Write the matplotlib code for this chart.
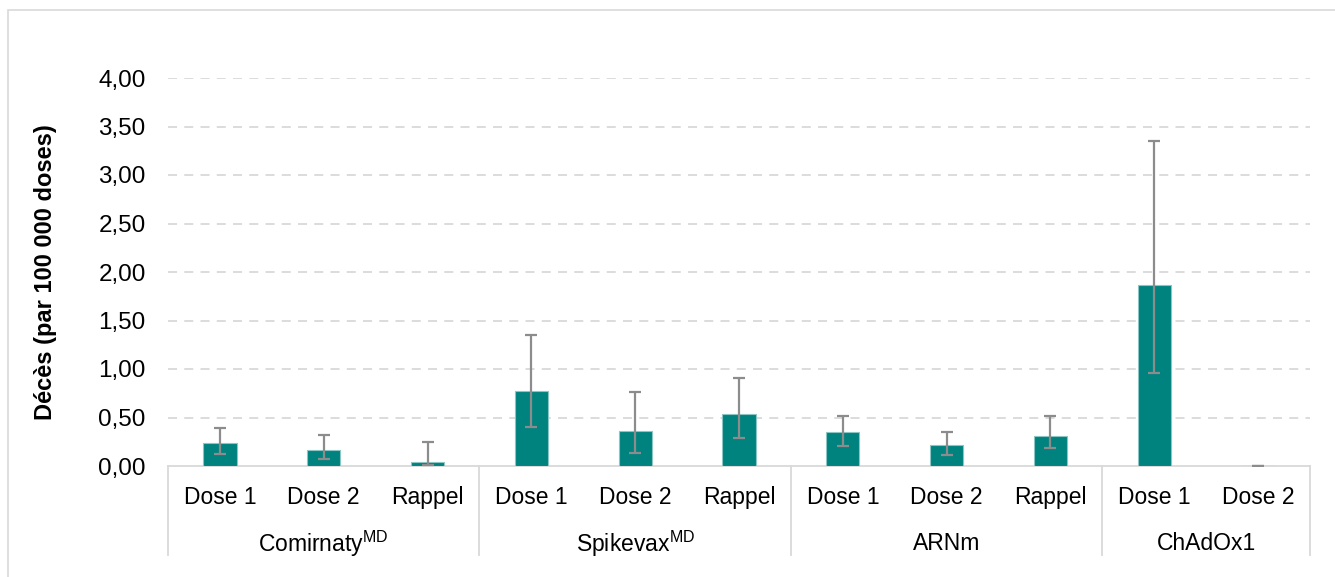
import matplotlib.pyplot as plt
import numpy as np
from matplotlib.patches import Rectangle

plt.rcParams['font.family'] = ['Liberation Sans', 'DejaVu Sans']
plt.rcParams['mathtext.fontset'] = 'custom'
plt.rcParams['mathtext.rm'] = 'Liberation Sans'

# donnees
groups = ["Comirnaty$^{\\mathrm{MD}}$", "Spikevax$^{\\mathrm{MD}}$", "ARNm", "ChAdOx1"]
group_sizes = [3, 3, 3, 2]
doses = ["Dose 1", "Dose 2", "Rappel",
         "Dose 1", "Dose 2", "Rappel",
         "Dose 1", "Dose 2", "Rappel",
         "Dose 1", "Dose 2"]
deces = [0.24, 0.17, 0.04, 0.77, 0.36, 0.54, 0.35, 0.22, 0.31, 1.87, 0.0]
ic_bas = [0.12, 0.07, 0.01, 0.40, 0.13, 0.29, 0.21, 0.11, 0.19, 0.96, 0.0]
ic_haut = [0.39, 0.32, 0.25, 1.35, 0.76, 0.91, 0.52, 0.35, 0.52, 3.35, 0.0]
yticks = [0, 0.5, 1, 1.5, 2, 2.5, 3, 3.5, 4]

fig = plt.figure(figsize=(13.35, 5.77), dpi=100)
ax = fig.add_axes([168/1335, (577-466)/577, (1310-168)/1335, (466-78)/577])

x = np.arange(len(deces))
err = [np.array(deces) - np.array(ic_bas), np.array(ic_haut) - np.array(deces)]
ax.bar(x, deces, width=0.32, color='#00827f', edgecolor='#8cc6c4', linewidth=0.8, zorder=3)
ax.errorbar(x, deces, yerr=err, fmt='none', ecolor='#8c8c8c', elinewidth=1.6,
            capsize=4.5, capthick=1.6, zorder=4)

ax.set_xlim(-0.5, len(deces) - 0.5)
ax.set_ylim(0, 4)
ax.set_yticks(yticks)
ax.set_yticklabels([("%.2f" % v).replace('.', ',') for v in yticks], fontsize=17.5)
for v in yticks[1:]:
    ax.axhline(v, color='#d9d9d9', linestyle=(0, (5, 4)), linewidth=1.3, zorder=1)
ax.tick_params(axis='y', length=0, pad=16)
ax.set_xticks([])
for s in ['top', 'right', 'left']:
    ax.spines[s].set_visible(False)
ax.spines['bottom'].set_color('#d9d9d9')
ax.spines['bottom'].set_linewidth(1.3)

ax.set_ylabel("Décès (par 100 000 doses)", fontsize=17, fontweight='bold', labelpad=30)

# etiquettes des categories
trans = ax.get_xaxis_transform()
for i, d in enumerate(doses):
    ax.text(i, -0.08, d, transform=trans, ha='center', va='center', fontsize=16.5, clip_on=False)
start = 0
bounds = [-0.5]
for g, n in zip(groups, group_sizes):
    mid = start + (n - 1) / 2
    ax.text(mid, -0.2, g, transform=trans, ha='center', va='center', fontsize=16.5, clip_on=False)
    start += n
    bounds.append(start - 0.5)
for b in bounds:
    ax.plot([b, b], [0, -0.23], transform=trans, color='#d9d9d9', linewidth=1.3, clip_on=False)

# cadre exterieur
fig.patches.append(Rectangle((8/1335, -0.1), 1.1, 1 - 10/577 + 0.1, transform=fig.transFigure,
                             fill=False, edgecolor='#d9d9d9', linewidth=1.2))

fig.savefig('out.png', dpi=100)
